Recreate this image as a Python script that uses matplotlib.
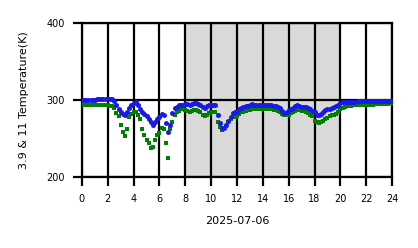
import numpy as np
import matplotlib
matplotlib.use("Agg")
import matplotlib.pyplot as plt

# 10-minute time steps over the day (hours)
hours = np.arange(0, 145) / 6.0

# 3.9 um brightness temperature (K), one row per hour
temp_39 = [
    300, 300, 300, 300, 300, 300,
    300, 301, 301, 301, 301, 301,
    302, 301, 301, 299, 294, 289,
    285, 282, 280, 284, 290, 294,
    296, 297, 294, 289, 285, 282,
    279, 276, 271, 268, 271, 275,
    278, 282, 281, 270, 258, 268,
    283, 290, 291, 293, 294, 294,
    295, 295, 294, 295, 296, 296,
    295, 293, 291, 290, 292, 294,
    294, 293, 293, 280, 270, 264,
    264, 268, 273, 278, 283, 284,
    285, 288, 290, 291, 292, 292,
    293, 295, 294, 293, 293, 294,
    294, 293, 294, 294, 293, 292,
    292, 291, 290, 286, 283, 285,
    287, 288, 290, 292, 293, 292,
    291, 291, 291, 290, 288, 286,
    284, 281, 280, 282, 285, 287,
    288, 289, 290, 291, 292, 294,
    296, 297, 298, 298, 298, 298,
    298, 298, 299, 299, 299, 299,
    299, 299, 299, 299, 299, 299,
    299, 299, 299, 299, 299, 299,
    299,
]

# 11 um brightness temperature (K)
temp_11 = [
    293, 293, 293, 293, 293, 293,
    293, 293, 293, 293, 293, 293,
    293, 292, 292, 290, 283, 279,
    268, 258, 253, 262, 278, 282,
    285, 284, 281, 276, 262, 255,
    248, 244, 238, 239, 248, 254,
    257, 264, 263, 244, 225, 262,
    272, 280, 285, 286, 288, 288,
    287, 286, 285, 286, 287, 287,
    286, 284, 281, 279, 281, 283,
    284, 284, 285, 272, 265, 261,
    264, 266, 271, 276, 278, 278,
    279, 282, 284, 285, 286, 287,
    287, 288, 288, 288, 289, 289,
    289, 289, 288, 288, 288, 287,
    287, 286, 285, 282, 280, 280,
    281, 283, 285, 286, 287, 287,
    286, 286, 285, 283, 281, 279,
    273, 271, 270, 271, 273, 275,
    277, 279, 280, 281, 282, 284,
    289, 290, 291, 292, 292, 292,
    293, 293, 293, 293, 294, 294,
    294, 294, 294, 294, 295, 295,
    295, 295, 295, 295, 295, 296,
    296,
]

night_start, night_end = 8, 20
x_ticks = list(range(0, 25, 2))
y_ticks = [200, 300, 400]

fig = plt.figure(figsize=(4.18, 2.48), dpi=100)
ax = fig.add_axes([0.196, 0.286, 0.742, 0.621])

# shaded night period
ax.axvspan(night_start, night_end, color="#d9d9d9", zorder=0, lw=0)

ax.plot(hours, temp_11, "s", color="green", ms=2.7, mew=0, zorder=3)
ax.plot(hours, temp_39, "o", color="#1a1ae6", ms=3.6, mew=0, zorder=4)

ax.set_xlim(0, 24)
ax.set_ylim(200, 400)
ax.set_xticks(x_ticks)
ax.set_yticks(y_ticks)
ax.grid(True, color="black", lw=1.6, zorder=1)
ax.set_axisbelow(True)
for sp in ax.spines.values():
    sp.set_color("black")
    sp.set_linewidth(1.6)
ax.tick_params(length=6.5, width=1.6, pad=6, labelsize=7)

ax.set_xlabel("2025-07-06", fontsize=8, labelpad=8)
ax.set_ylabel("3.9 & 11 Temperature(K)", fontsize=8, labelpad=12)

fig.savefig("out.png", dpi=100)
